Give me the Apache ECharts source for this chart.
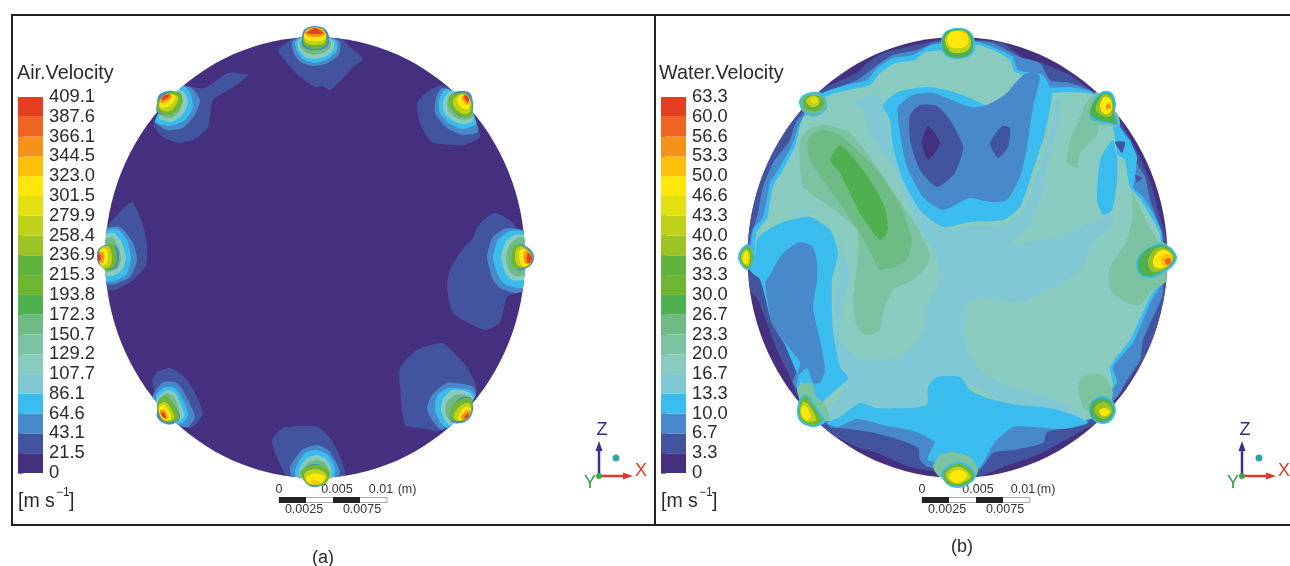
<!DOCTYPE html>
<html><head><meta charset="utf-8">
<style>html,body{margin:0;padding:0;background:#fff}#c{width:1290px;height:566px}</style>
<script src="https://cdn.jsdelivr.net/npm/echarts@6/dist/echarts.min.js"></script>
</head><body><div id="c"></div>
<script>
// Band colours, lowest band first
const bandColors = ['#44307f','#43549f','#4889c9','#3bbcee','#80c8d4','#8acbbf','#7cc3a2','#6fbb84','#4fb04f','#6eb531','#62b33d','#9cc323','#bfd118','#e3e012','#ffe70a','#fdbf0a','#f6921a','#ef6420','#e63e20'];
const airTicks = ['0','21.5','43.1','64.6','86.1','107.7','129.2','150.7','172.3','193.8','215.3','236.9','258.4','279.9','301.5','323.0','344.5','366.1','387.6','409.1'];
const waterTicks = ['0','3.3','6.7','10.0','13.3','16.7','20.0','23.3','26.7','30.0','33.3','36.6','40.0','43.3','46.6','50.0','53.3','56.6','60.0','63.3'];
// Pipe cross-section, in the plot's measuring units
const airSection = [315, 257.5, 210, 220.5];
const waterSection = [957.5, 257.5, 210, 220.5];
// Contour regions: [band, x1,y1, x2,y2, ...]
const airJetNW = [
 [1, 153,124, 160,113, 170,97, 185,87, 205,88, 228,73, 248,75, 232,88, 213,100, 208,127, 197,138, 180,143, 163,137],
 [2, 157,123, 167,130, 183,128, 195,115, 200,100, 192,88, 182,86, 165,100],
 [3, 155,122, 170,126, 185,120, 193,107, 190,92, 183,86, 165,102],
 [5, 159,118, 172,122, 183,114, 188,103, 184,92, 177,90, 165,103],
 [7, 162,116, 172,118, 180,110, 183,100, 180,92, 172,92, 163,105]];
const airTipNW = [
 [2, 157,103, 159,95, 168,91, 177,92, 182,97, 177,107, 165,115, 157,112],
 [9, 160,113, 170,115, 180,107, 182,98, 178,93, 170,92, 158,100, 157,107],
 [12, 160,109, 170,111, 177,103, 178,97, 172,94, 164,96, 160,102],
 [14, 160,107, 167,107, 174,101, 175,96, 169,94, 163,97, 160,101],
 [16, 161,103, 167,101, 172,97, 170,94, 165,95, 161,99],
 [18, 162,100, 167,98, 170,95, 166,95, 162,98]];
const airJetNE = [
 [1, 438,86, 427,92, 417,103, 420,123, 432,142, 463,145, 480,137, 473,113, 453,92, 443,85],
 [2, 442,88, 436,97, 435,113, 447,128, 463,135, 478,132, 473,115, 453,92],
 [3, 445,89, 439,100, 440,113, 450,124, 463,129, 476,124, 473,113, 455,92],
 [5, 449,92, 443,102, 444,112, 452,120, 462,124, 472,122, 473,113, 456,92],
 [7, 452,93, 447,102, 449,112, 456,118, 465,120, 472,118, 473,113, 458,95]];
const airTipNE = [
 [2, 454,93, 462,91, 470,93, 473,103, 472,113, 465,117, 457,115, 452,105],
 [9, 449,98, 451,108, 462,117, 471,115, 472,103, 467,94, 458,93],
 [12, 453,100, 455,108, 463,114, 469,113, 471,103, 466,95, 460,94],
 [14, 457,100, 462,108, 468,109, 470,101, 465,95, 461,95],
 [16, 462,98, 466,104, 469,104, 469,98, 465,94],
 [18, 464,96, 467,102, 469,100, 467,96]];
const airJetW = [
 [1, 104,232, 120,212, 132,202, 142,222, 147,245, 146,265, 133,280, 115,290, 104,288],
 [2, 104,230, 120,227, 133,243, 137,260, 130,277, 115,284, 104,283],
 [3, 104,232, 117,229, 127,240, 131,258, 126,275, 115,281, 104,281],
 [5, 104,236, 114,233, 122,243, 126,258, 122,270, 113,276, 104,275],
 [7, 104,240, 112,237, 118,246, 121,258, 118,268, 110,272, 104,271]];
const airTipW = [
 [2, 97,257, 98,250, 105,245, 117,247, 119,258, 116,268, 106,270, 102,267, 98,263],
 [9, 105,246, 113,245, 117,257, 114,267, 105,269, 100,264, 99,257, 100,250],
 [12, 102,247, 109,247, 112,257, 110,266, 103,268, 100,262, 100,252],
 [14, 100,250, 106,249, 108,257, 106,264, 101,265, 99,258],
 [16, 99,253, 103,252, 104,258, 103,263, 100,262],
 [18, 98,255, 100,254, 101,258, 100,261, 98,260]];
const airJetE = [
 [1, 493,213, 507,218, 520,233, 526,285, 517,293, 507,297, 500,322, 485,330, 453,313, 447,287, 450,270, 462,250, 473,238, 478,226],
 [2, 507,228, 493,237, 487,257, 493,280, 500,288, 515,293, 526,290, 526,232],
 [3, 510,231, 498,240, 493,258, 498,275, 506,285, 526,287, 526,233],
 [5, 514,235, 505,243, 501,258, 505,272, 512,280, 526,279, 526,236],
 [7, 517,238, 509,246, 506,258, 509,270, 515,276, 526,274, 526,238]];
const airTipE = [
 [2, 518,245, 523,245, 531,250, 534,257, 532,264, 525,269, 518,270, 513,258],
 [9, 512,253, 515,245, 522,246, 530,251, 533,258, 530,265, 524,268, 515,268, 511,261],
 [12, 516,250, 521,246, 528,251, 532,258, 529,265, 523,267, 517,265, 515,258],
 [14, 520,250, 526,250, 531,258, 528,265, 523,266, 520,262, 519,256],
 [16, 525,251, 529,253, 532,258, 529,264, 525,263, 524,257],
 [18, 528,253, 531,256, 532,259, 530,263, 527,262, 527,257]];
const airJetSW = [
 [1, 152,382, 157,372, 170,368, 185,377, 197,397, 203,413, 197,423, 190,428, 177,423, 160,405],
 [2, 153,395, 163,382, 177,383, 188,400, 195,417, 188,427, 177,425, 155,405],
 [3, 156,395, 165,387, 175,388, 184,402, 188,415, 183,423, 172,423, 157,403],
 [5, 157,398, 167,390, 175,393, 181,405, 184,416, 177,422, 170,423, 158,405],
 [7, 158,400, 167,393, 174,397, 178,407, 180,416, 175,421, 168,422]];
const airTipSW = [
 [2, 157,412, 158,402, 165,397, 173,404, 180,417, 173,424, 163,423, 157,417],
 [9, 158,403, 165,396, 172,403, 179,417, 172,422, 163,421, 158,412],
 [12, 159,405, 165,402, 171,409, 174,418, 168,421, 162,419, 159,411],
 [14, 159,408, 164,405, 169,412, 171,419, 165,420, 161,417],
 [16, 160,411, 164,410, 167,415, 167,419, 163,418],
 [18, 161,413, 164,413, 166,418, 163,417]];
const airJetSE = [
 [1, 442,343, 453,352, 467,367, 477,390, 465,410, 448,425, 438,431, 420,428, 405,425, 400,387, 400,368, 417,350],
 [2, 447,383, 432,395, 427,408, 432,420, 442,430, 460,415, 476,395, 472,386],
 [3, 448,388, 437,396, 435,410, 440,422, 447,428, 465,413, 475,396, 470,390],
 [5, 452,390, 443,399, 441,410, 445,420, 450,425, 466,412, 473,398, 468,392],
 [7, 455,395, 447,402, 445,412, 450,421, 455,422, 466,412, 472,400, 466,395]];
const airTipSE = [
 [2, 460,398, 470,397, 472,402, 473,410, 469,419, 461,423, 452,422, 450,412],
 [9, 450,412, 455,403, 465,398, 472,400, 471,412, 466,420, 458,421, 452,420],
 [12, 455,412, 463,404, 470,404, 471,412, 465,419, 458,421, 454,418],
 [14, 459,415, 465,407, 470,408, 470,413, 465,418, 459,420],
 [16, 461,417, 466,411, 470,411, 468,417, 463,420],
 [18, 464,418, 467,414, 469,414, 467,418]];
const airJetS = [
 [1, 272,440, 283,428, 300,426, 318,427, 330,438, 337,450, 344,468, 345,480, 290,480, 283,470, 277,458],
 [2, 290,467, 302,450, 317,445, 328,450, 336,462, 340,472, 335,482, 295,482],
 [3, 295,470, 305,453, 317,450, 328,455, 335,468, 333,482, 298,482],
 [5, 300,468, 307,458, 317,455, 326,459, 331,468, 330,482, 300,482],
 [7, 302,470, 309,462, 317,460, 325,463, 329,470, 327,482, 303,482]];
const airTipS = [
 [2, 302,473, 308,485, 315,487, 322,485, 328,475, 320,465, 310,465],
 [9, 300,473, 305,468, 315,465, 325,467, 330,474, 325,484, 315,486, 307,484],
 [12, 304,475, 310,470, 320,470, 327,476, 323,483, 315,485, 308,483],
 [14, 306,478, 312,474, 320,474, 325,477, 321,483, 315,484, 309,483],
 [15, 311,481, 318,481, 320,483, 314,484]];
const airJetN = [
 [1, 278,50, 297,37, 340,38, 350,47, 363,59, 353,67, 343,78, 330,90, 323,86, 315,87, 300,77, 287,63],
 [2, 292,42, 300,37, 330,37, 340,42, 339,54, 328,63, 315,66, 302,63, 294,54],
 [3, 295,42, 302,37, 328,37, 337,42, 336,52, 326,60, 315,63, 304,60, 297,52],
 [5, 298,42, 303,37, 327,37, 334,42, 333,50, 325,57, 315,59, 305,57, 299,50],
 [7, 300,42, 304,38, 326,38, 331,42, 330,48, 323,53, 315,55, 307,53, 301,48]];
const airTipN = [
 [2, 302,37, 304,30, 309,27, 315,26, 321,27, 326,30, 329,37, 327,47, 315,50, 303,47],
 [9, 303,40, 305,31, 310,28, 315,28, 320,28, 325,31, 327,40, 325,46, 315,49, 305,46],
 [12, 304,38, 306,31, 311,28, 319,28, 324,31, 326,38, 324,43, 315,45, 306,43],
 [14, 304,35, 307,30, 311,28, 319,28, 323,30, 326,35, 324,40, 315,41, 306,40],
 [16, 305,33, 308,30, 312,28, 318,28, 322,30, 325,33, 322,36, 315,37, 308,36],
 [18, 307,33, 311,30, 315,28, 319,30, 323,33, 315,34]];

const waterRim = [
 [1, 945,39, 903,48, 883,53, 867,63, 857,73, 837,82, 817,92, 797,113, 783,127, 767,150, 757,180, 752,207, 748,237, 750,290, 758,300, 767,323, 777,350, 790,377, 797,395, 823,428, 837,437, 857,447, 877,453, 893,460, 910,467, 937,472, 977,477, 1003,467, 1037,455, 1060,443, 1083,430, 1097,423, 1117,398, 1130,380, 1147,353, 1157,327, 1165,293, 1167,243, 1160,217, 1152,187, 1140,157, 1127,133, 1117,117, 1090,90, 1070,75, 1042,63, 1023,58, 1003,43, 977,40],
 [2, 937,42, 917,50, 893,55, 880,63, 867,73, 857,80, 833,90, 797,120, 790,140, 773,163, 763,187, 757,217, 750,238, 752,270, 765,283, 772,323, 785,343, 800,363, 793,383, 830,427, 840,428, 870,432, 900,440, 918,448, 920,460, 928,467, 977,472, 993,453, 1013,450, 1043,443, 1047,432, 1073,427, 1087,422, 1117,397, 1127,380, 1140,360, 1143,340, 1153,317, 1163,293, 1158,223, 1150,200, 1145,177, 1133,157, 1127,140, 1117,122, 1093,92, 1070,83, 1050,80, 1040,63, 1020,57, 993,43, 977,41],
 [3, 935,44, 927,47, 913,55, 893,58, 877,68, 867,80, 847,85, 823,93, 800,123, 793,143, 780,167, 770,183, 763,217, 753,230, 750,270, 767,285, 775,323, 788,343, 802,363, 797,388, 837,425, 857,417, 883,423, 917,430, 935,440, 928,460, 977,467, 995,440, 1013,425, 1033,425, 1063,427, 1083,423, 1117,383, 1113,367, 1133,343, 1140,327, 1152,300, 1163,280, 1162,233, 1153,213, 1143,197, 1133,187, 1137,157, 1127,137, 1117,123, 1092,92, 1070,87, 1047,87, 1042,75, 1018,70, 1013,57, 993,47, 977,42],
 [5, 945,50, 925,52, 915,60, 895,63, 880,73, 870,85, 848,90, 825,97, 803,125, 795,147, 783,170, 773,187, 768,217, 757,232, 755,265, 770,290, 778,325, 790,345, 805,365, 800,390, 835,423, 860,414, 885,420, 920,428, 940,440, 975,450, 995,435, 1013,420, 1035,420, 1065,422, 1085,420, 1100,415, 1113,385, 1110,367, 1130,340, 1137,325, 1150,297, 1160,280, 1160,235, 1150,215, 1140,199, 1130,187, 1125,160, 1117,140, 1112,125, 1095,95, 1070,92, 1045,92, 1038,78, 1015,72, 1010,60, 993,50, 977,45]];
const waterCentre = [
 [4, 858,100, 878,95, 885,115, 893,150, 905,185, 922,215, 945,230, 970,226, 1005,224, 1023,210, 1037,175, 1050,135, 1056,100, 1062,97, 1055,135, 1045,175, 1040,200, 1030,225, 1010,245, 1040,240, 1058,237, 1085,225, 1112,215, 1112,225, 1090,245, 1085,262, 1070,278, 1040,293, 1020,303, 985,298, 965,305, 965,343, 980,370, 1010,387, 1043,395, 1070,408, 1087,422, 1060,418, 1010,405, 970,385, 930,385, 925,405, 880,408, 860,403, 838,420, 825,420, 845,385, 838,365, 835,330, 836,285, 840,250, 835,225, 815,213, 790,216, 820,190, 830,130],
 [5, 805,115, 860,107, 870,133, 893,167, 913,213, 937,260, 940,280, 925,310, 927,327, 900,357, 860,358, 840,340, 845,293, 850,280, 843,253, 835,225, 815,212, 783,212, 770,220, 768,217, 773,187, 783,170, 795,147],
 [6, 800,140, 810,128, 827,125, 850,133, 877,167, 897,197, 913,220, 930,255, 925,268, 913,280, 893,290, 883,313, 880,330, 867,335, 857,327, 853,300, 857,267, 857,230, 830,207, 803,187, 800,165],
 [7, 808,140, 820,130, 840,135, 877,170, 900,205, 912,240, 905,262, 880,270, 873,257, 855,225, 830,190, 810,160],
 [8, 830,160, 840,145, 863,170, 883,203, 888,230, 880,240, 860,213, 840,173]];
const waterEast = [
 [6, 1067,163, 1077,167, 1080,153, 1098,133, 1097,113, 1085,110, 1070,140],
 [6, 1132,192, 1147,223, 1158,240, 1167,245, 1167,280, 1150,293, 1140,305, 1127,303, 1113,293, 1108,280, 1110,267, 1127,240, 1133,213],
 [6, 1078,387, 1085,375, 1103,375, 1113,393, 1105,412, 1085,410],
 [3, 1107,147, 1113,140, 1117,157, 1117,183, 1112,210, 1103,215, 1097,200, 1100,160],
 [3, 1115,132, 1130,140, 1136,165, 1133,187, 1125,160, 1118,155],
 [1, 1115,142, 1125,142, 1122,153],
 [1, 1135,175, 1143,178, 1137,182]];
const waterPit = [
 [3, 883,105, 898,92, 927,87, 947,90, 970,98, 987,105, 1003,97, 1020,78, 1042,75, 1052,93, 1045,133, 1033,170, 1020,207, 1003,220, 970,222, 943,227, 920,210, 903,180, 893,147, 890,120],
 [2, 898,107, 913,95, 933,93, 970,107, 987,105, 1007,93, 1023,75, 1033,72, 1040,77, 1033,107, 1027,147, 1020,177, 1007,200, 990,202, 970,198, 943,210, 923,197, 907,167, 900,133],
 [1, 910,115, 920,105, 937,106, 950,120, 963,147, 955,173, 937,187, 920,170, 910,140],
 [0, 922,143, 928,126, 940,143, 928,160],
 [1, 990,143, 1002,126, 1010,128, 1008,147, 998,158]];
const waterLobe = [
 [3, 757,240, 763,233, 783,222, 810,217, 830,230, 838,253, 832,280, 833,330, 840,367, 848,378, 830,395, 818,405, 810,395, 800,380, 785,345, 772,323, 762,285, 755,265],
 [2, 767,280, 783,253, 800,242, 813,247, 817,263, 817,280, 813,307, 820,340, 825,370, 820,383, 813,383, 807,368, 797,377, 793,383, 800,363, 785,343, 772,323, 765,283]];
const waterBottom = [
 [3, 827,423, 840,417, 860,403, 877,408, 907,408, 927,405, 928,387, 937,377, 960,377, 970,390, 987,398, 1017,405, 1050,408, 1073,415, 1088,423, 1063,429, 1033,427, 1013,427, 995,442, 977,469, 935,442, 917,432, 883,425, 857,419, 837,427]];
const waterHalos = [
 [6, 797,390, 800,384, 812,383, 815,395, 825,405, 830,418, 820,424, 805,415],
 [6, 933,467, 940,455, 953,452, 970,457, 978,470, 975,477, 940,477],
 [6, 1083,110, 1095,93, 1110,92, 1120,125, 1100,125]];
const waterTipN = [
 [3, 941,42, 944,33, 951,29, 958,28, 966,29, 972,34, 975,42, 974,52, 965,58, 950,58, 943,52],
 [8, 942,44, 945,34, 952,30, 965,30, 971,35, 973,44, 971,53, 963,57, 951,57, 945,53],
 [12, 945,42, 947,35, 953,31, 964,31, 969,36, 971,43, 968,50, 960,53, 951,52],
 [14, 947,40, 950,33, 957,31, 965,33, 968,38, 967,45, 960,48, 951,47],
 [15, 961,31, 966,32, 967,35, 963,33]];
const waterTipNW = [
 [3, 799,103, 802,96, 812,92, 822,93, 827,102, 826,110, 816,116, 805,114],
 [7, 801,103, 803,97, 812,94, 821,95, 826,103, 824,110, 815,114, 805,112],
 [10, 803,103, 806,97, 812,95, 820,97, 824,103, 821,109, 813,111, 806,109],
 [12, 806,102, 809,97, 815,96, 820,100, 818,105, 812,107],
 [13, 810,99, 815,97, 818,101, 814,104]];
const waterTipW = [
 [3, 738,257, 741,249, 748,244, 753,250, 755,258, 752,267, 747,270, 741,265],
 [9, 740,257, 743,250, 748,246, 752,252, 753,259, 750,267, 746,268, 742,264],
 [12, 741,257, 745,250, 749,251, 750,259, 748,266, 743,263],
 [14, 743,257, 746,251, 748,254, 748,262, 745,264, 743,261]];
const waterTipSW = [
 [3, 797,410, 800,398, 805,394, 812,400, 820,412, 825,422, 815,427, 805,425, 799,420],
 [9, 799,410, 801,400, 805,396, 811,402, 818,413, 822,421, 814,425, 805,423, 800,418],
 [12, 800,410, 803,402, 807,403, 812,410, 816,420, 808,422, 802,418],
 [14, 801,412, 804,405, 807,408, 811,416, 808,420, 803,417]];
const waterTipS = [
 [3, 941,474, 950,464, 960,462, 970,466, 976,476, 968,485, 958,488, 948,485],
 [9, 943,474, 951,466, 960,464, 969,468, 974,476, 966,484, 958,486, 949,484],
 [12, 946,475, 952,468, 960,467, 967,471, 971,477, 964,482, 958,484, 951,482],
 [14, 949,476, 954,471, 961,470, 967,475, 963,481, 957,483, 952,481]];
const waterTipSE = [
 [3, 1089,410, 1093,400, 1103,396, 1112,400, 1116,410, 1112,420, 1103,424, 1093,420],
 [8, 1090,410, 1094,401, 1103,398, 1111,402, 1114,410, 1111,418, 1103,422, 1094,419],
 [11, 1094,410, 1098,404, 1105,402, 1111,407, 1112,412, 1107,418, 1100,418],
 [14, 1099,411, 1104,408, 1110,411, 1108,415, 1103,416]];
const waterTipE = [
 [3, 1150,247, 1160,243, 1170,247, 1177,257, 1173,266, 1165,272, 1152,278, 1140,275, 1136,263, 1142,252],
 [8, 1138,263, 1143,253, 1152,247, 1163,245, 1170,249, 1175,257, 1171,265, 1163,271, 1152,276, 1141,274],
 [11, 1148,262, 1152,252, 1160,247, 1169,250, 1174,257, 1170,265, 1160,271, 1151,271],
 [14, 1153,260, 1158,252, 1165,250, 1172,256, 1170,264, 1162,268, 1155,267],
 [15, 1161,258, 1167,254, 1172,257, 1170,264, 1164,266],
 [17, 1165,260, 1170,258, 1171,263, 1167,265]];
const waterTipNE = [
 [3, 1092,107, 1095,97, 1104,91, 1112,93, 1116,103, 1115,113, 1120,125, 1110,124, 1098,122, 1090,118],
 [8, 1090,114, 1095,100, 1104,93, 1111,95, 1114,105, 1114,115, 1117,124, 1108,122, 1098,120],
 [11, 1096,110, 1099,100, 1105,94, 1111,97, 1113,107, 1111,116, 1103,116],
 [14, 1100,106, 1104,97, 1110,99, 1112,108, 1108,114, 1103,113],
 [16, 1106,105, 1110,104, 1111,108, 1107,109]];

const airDomain = [].concat(airJetNW, airJetNE, airJetW, airJetE, airJetSW, airJetSE, airJetS, airJetN);
const airTips = [].concat(airTipNW, airTipNE, airTipW, airTipE, airTipSW, airTipSE, airTipS, airTipN);
const waterDomain = [].concat(waterRim, waterCentre, waterEast, waterPit, waterLobe, waterBottom, waterHalos);
const waterTips = [].concat(waterTipN, waterTipNW, waterTipW, waterTipSW, waterTipS, waterTipSE, waterTipE, waterTipNE);

const ellipseShape = (api, s) => {
  const c = api.coord([s[0], s[1]]), e = api.coord([s[0] + s[2], s[1] + s[3]]);
  return {cx: c[0], cy: c[1], rx: Math.abs(e[0] - c[0]), ry: Math.abs(e[1] - c[1])};
};
const sectionSeries = (idx, section) => ({
  type: 'custom', xAxisIndex: idx, yAxisIndex: idx, silent: true, clip: false,
  data: [section],
  renderItem: (p, api) => ({type: 'ellipse', shape: ellipseShape(api, section), style: {fill: bandColors[0]}})
});
const contourSeries = (idx, layers, section) => ({
  type: 'custom', xAxisIndex: idx, yAxisIndex: idx, silent: true, clip: false,
  data: layers.map((l, i) => [l[1], l[2], i]),
  renderItem: (p, api) => {
    const l = layers[p.dataIndex], pts = [];
    for (let i = 1; i < l.length; i += 2) pts.push(api.coord([l[i], l[i + 1]]));
    const el = {type: 'polygon', shape: {points: pts, smooth: section ? 0.2 : 0.35}, style: {fill: bandColors[l[0]]}};
    if (section) el.clipPath = {type: 'ellipse', shape: ellipseShape(api, section)};
    return el;
  }
});
const keySeries = (idx) => ({
  type: 'custom', xAxisIndex: idx, yAxisIndex: idx, silent: true,
  data: bandColors.map((c, i) => [0, i]),
  renderItem: (p, api) => {
    const a = api.coord([0, api.value(1)]), b = api.coord([1, api.value(1) + 1]);
    return {type: 'rect', shape: {x: a[0], y: b[1], width: b[0] - a[0], height: a[1] - b[1]}, style: {fill: bandColors[p.dataIndex]}};
  }
});
const hiddenAxis = (min, max, grid, inverse) => ({type: 'value', min, max, gridIndex: grid, show: false, inverse: !!inverse, scale: true});
const keyAxis = (grid, ticks) => ({
  type: 'value', gridIndex: grid, min: 0, max: 19, interval: 1, position: 'right',
  splitLine: {show: false}, axisLine: {show: true, lineStyle: {opacity: 0}},
  axisTick: {show: true, length: 5, lineStyle: {color: '#888', width: 1}},
  axisLabel: {margin: 6, fontSize: 18.4, color: '#2a2a2a', fontFamily: 'Liberation Sans', padding: [4, 0, 0, 0], formatter: v => ticks[v]}
});

// Scale bars and axis triads
const F = 'Liberation Sans';
const txt = (x, y, t, size, color, align) => ({type: 'text', x, y: y + 1.5, silent: true, style: {text: t, fontSize: size, fontFamily: F, fill: color || '#2a2a2a', align: align || 'left', verticalAlign: 'middle'}});
const box = (x, y, w, h, fill, stroke) => ({type: 'rect', silent: true, shape: {x, y, width: w, height: h}, style: {fill, stroke: stroke || null, lineWidth: 1}});
const scaleBar = (x0, o) => [
  box(x0, 497.5, 108, 5, '#fff', '#aaa'), box(x0, 497, 27, 6, '#222'), box(x0 + 54, 497, 27, 6, '#222'),
  txt(x0, 488, '0', 12.5, '#333', 'center'), txt(x0 + o[0], 488, '0.005', 12.5, '#333', 'center'),
  txt(x0 + o[1], 488, '0.01', 12.5, '#333', 'center'), txt(x0 + o[2], 488, '(m)', 12.5, '#333', 'center'),
  txt(x0 + 25, 508, '0.0025', 12.5, '#333', 'center'), txt(x0 + 83, 508, '0.0075', 12.5, '#333', 'center')];
const triad = (x) => [
  {type: 'line', silent: true, shape: {x1: x, y1: 476, x2: x, y2: 450}, style: {stroke: '#3a2f8f', lineWidth: 2.5}},
  {type: 'polygon', silent: true, shape: {points: [[x - 3.5, 451], [x, 441], [x + 3.5, 451]]}, style: {fill: '#3a2f8f'}},
  {type: 'line', silent: true, shape: {x1: x, y1: 476, x2: x + 24, y2: 476}, style: {stroke: '#e0392b', lineWidth: 2.5}},
  {type: 'polygon', silent: true, shape: {points: [[x + 24, 472.5], [x + 34, 476], [x + 24, 479.5]]}, style: {fill: '#e0392b'}},
  {type: 'circle', silent: true, shape: {cx: x, cy: 476, r: 3}, style: {fill: '#3aa845'}},
  {type: 'circle', silent: true, shape: {cx: x + 17, cy: 458, r: 3.5}, style: {fill: '#2aa5ad'}},
  txt(x + 3, 429, 'Z', 18, '#2d2a86', 'center'), txt(x + 42, 470, 'X', 18, '#e0392b', 'center'), txt(x - 9, 482, 'Y', 18, '#2e9e4a', 'center')];
const unit = (x) => [txt(x, 500, '[m s', 19.5), txt(x + 38, 491, '\u22121', 12), txt(x + 51, 500, ']', 19.5)];
const frameB = {type: 'polyline', silent: true, shape: {points: [[1295, 15], [655, 15], [655, 525], [1295, 525]]}, style: {stroke: '#222', lineWidth: 2, fill: null}};

const chart = echarts.init(document.getElementById('c'), null, {renderer: 'canvas'});
chart.setOption({
  animation: false,
  backgroundColor: '#fff',
  grid: [
    {left: 12, top: 15, width: 643, height: 510, show: true, borderColor: '#222', borderWidth: 2, backgroundColor: '#fff'},
    {left: 655, top: 15, width: 635, height: 510},
    {left: 18, top: 97, width: 25, height: 376},
    {left: 661, top: 97, width: 25, height: 376}
  ],
  xAxis: [hiddenAxis(12, 655, 0), hiddenAxis(655, 1290, 1), hiddenAxis(0, 1, 2), hiddenAxis(0, 1, 3)],
  yAxis: [hiddenAxis(15, 525, 0, true), hiddenAxis(15, 525, 1, true), keyAxis(2, airTicks), keyAxis(3, waterTicks)],
  series: [
    sectionSeries(0, airSection), contourSeries(0, airDomain, airSection), contourSeries(0, airTips, null),
    sectionSeries(1, waterSection), contourSeries(1, waterDomain, waterSection), contourSeries(1, waterTips, null),
    keySeries(2), keySeries(3)
  ],
  graphic: [].concat(
    [frameB, txt(17, 72, 'Air.Velocity', 19.8), txt(659, 72, 'Water.Velocity', 19.8), txt(323, 557, '(a)', 18, '#2a2a2a', 'center'), txt(962, 546, '(b)', 18, '#2a2a2a', 'center')],
    unit(18), unit(661), scaleBar(279, [58, 102, 128]), scaleBar(922, [56, 101, 124]), triad(599), triad(1242))
});
</script></body></html>
